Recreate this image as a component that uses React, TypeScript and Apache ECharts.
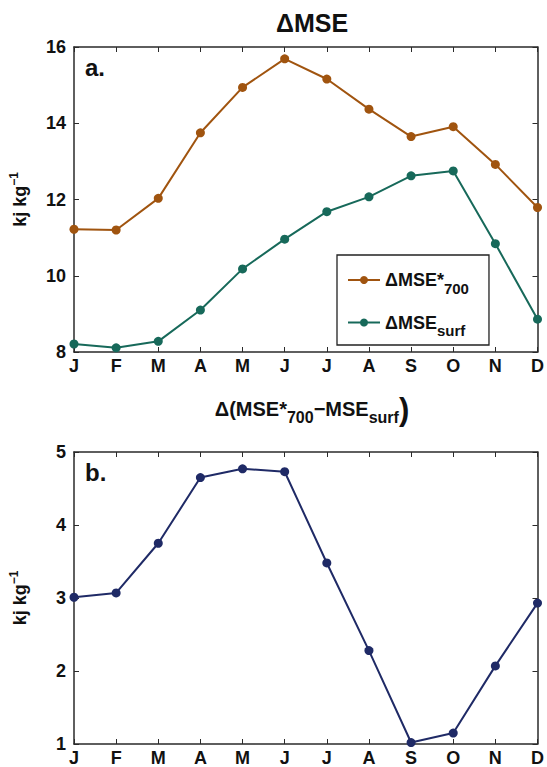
import React, { useEffect, useRef } from "react";
import * as echarts from "echarts";

const months = ["J", "F", "M", "A", "M", "J", "J", "A", "S", "O", "N", "D"];
const mseStar700 = [11.22, 11.2, 12.03, 13.75, 14.94, 15.69, 15.16, 14.37, 13.65, 13.91, 12.92, 11.79];
const mseSurf = [8.21, 8.11, 8.28, 9.1, 10.18, 10.96, 11.68, 12.07, 12.62, 12.75, 10.84, 8.86];
const mseDiff = [3.01, 3.07, 3.75, 4.65, 4.77, 4.73, 3.48, 2.28, 1.02, 1.15, 2.07, 2.93];
const topTicks = { min: 8, max: 16, interval: 2 };
const botTicks = { min: 1, max: 5, interval: 1 };

const FONT = "Liberation Sans, Arial, Helvetica, sans-serif";
const ORANGE = "#a0540f";
const GREEN = "#17695a";
const NAVY = "#1f2a66";
const AXIS = "#2a2a2a";

export default function App() {
  const ref = useRef<HTMLDivElement>(null);
  useEffect(() => {
    if (!ref.current) return;
    const chart = echarts.init(ref.current, null, { renderer: "svg" });
    const axisLine = { show: true, lineStyle: { color: AXIS, width: 1.5 } };
    const tick = { show: true, inside: true, length: 5, lineStyle: { color: AXIS, width: 1 } };
    const lbl = { fontFamily: FONT, fontWeight: "bold", fontSize: 18, color: "#111" };
    const yName = {
      name: "{m|kj kg}{s|−1}",
      nameLocation: "middle",
      nameGap: 42,
      nameRotate: 90,
      nameTextStyle: {
        rich: {
          m: { fontFamily: FONT, fontWeight: "bold", fontSize: 18, color: "#111" },
          s: { fontFamily: FONT, fontWeight: "bold", fontSize: 12, color: "#111", padding: [0, 0, 12, 0] },
        },
      },
    };
    const xBase = (gi: number, pos: string, showLabel: boolean) => ({
      type: "category",
      data: months,
      gridIndex: gi,
      position: pos,
      boundaryGap: false,
      axisLine,
      axisTick: { ...tick, interval: 0 },
      axisLabel: showLabel ? { ...lbl, margin: 5, interval: 0 } : { show: false },
      splitLine: { show: false },
    });
    const yBase = (gi: number, pos: string, t: any, showLabel: boolean, named: boolean) => ({
      type: "value",
      gridIndex: gi,
      position: pos,
      min: t.min,
      max: t.max,
      interval: t.interval,
      axisLine,
      axisTick: tick,
      axisLabel: showLabel ? { ...lbl, margin: 8 } : { show: false },
      splitLine: { show: false },
      ...(named ? yName : {}),
    });
    const sub = {
      m: { fontFamily: FONT, fontWeight: "bold", fontSize: 18, color: "#111" },
      s: { fontFamily: FONT, fontWeight: "bold", fontSize: 15, color: "#111", padding: [16, 0, 0, 0] },
    };
    chart.setOption({
      animation: false,
      backgroundColor: "#fff",
      title: [
        {
          text: "ΔMSE",
          left: 307,
          textAlign: "center",
          top: 5,
          textStyle: { fontFamily: FONT, fontWeight: "bold", fontSize: 25, color: "#111" },
        },
        {
          text: "{m|Δ(MSE*}{s|700}{m|−MSE}{s|surf}{p|)}",
          left: 307,
          textAlign: "center",
          top: 388,
          textStyle: {
            rich: {
              m: { fontFamily: FONT, fontWeight: "bold", fontSize: 20, color: "#111" },
              s: { fontFamily: FONT, fontWeight: "bold", fontSize: 16, color: "#111", padding: [16, 0, 0, 0] },
              p: { fontFamily: FONT, fontWeight: "bold", fontSize: 31, color: "#111" },
            },
          },
        },
        {
          text: "a.",
          left: 80,
          top: 50,
          textStyle: { fontFamily: FONT, fontWeight: "bold", fontSize: 24, color: "#111" },
        },
        {
          text: "b.",
          left: 80,
          top: 455,
          textStyle: { fontFamily: FONT, fontWeight: "bold", fontSize: 24, color: "#111" },
        },
      ],
      grid: [
        { left: 74, right: 6, top: 47, height: 305 },
        { left: 74, right: 6, top: 452, height: 292 },
      ],
      xAxis: [xBase(0, "bottom", true), xBase(0, "top", false), xBase(1, "bottom", true), xBase(1, "top", false)],
      yAxis: [
        yBase(0, "left", topTicks, true, true),
        yBase(0, "right", topTicks, false, false),
        yBase(1, "left", botTicks, true, true),
        yBase(1, "right", botTicks, false, false),
      ],
      legend: {
        data: ["star", "surf"],
        orient: "vertical",
        left: 337,
        top: 255,
        itemWidth: 32,
        itemHeight: 10,
        itemGap: 18,
        padding: [16, 20, 7, 10],
        borderColor: "#222",
        borderWidth: 1.3,
        backgroundColor: "#fff",
        formatter: (n: string) => (n === "star" ? "{m|ΔMSE*}{s|700}" : "{m|ΔMSE}{s|surf}"),
        textStyle: { rich: sub },
      },
      series: [
        {
          name: "star",
          type: "line",
          xAxisIndex: 0,
          yAxisIndex: 0,
          data: mseStar700,
          symbol: "circle",
          symbolSize: 9,
          lineStyle: { color: ORANGE, width: 2 },
          itemStyle: { color: ORANGE },
        },
        {
          name: "surf",
          type: "line",
          xAxisIndex: 0,
          yAxisIndex: 0,
          data: mseSurf,
          symbol: "circle",
          symbolSize: 9,
          lineStyle: { color: GREEN, width: 2 },
          itemStyle: { color: GREEN },
        },
        {
          name: "diff",
          type: "line",
          xAxisIndex: 2,
          yAxisIndex: 2,
          data: mseDiff,
          symbol: "circle",
          symbolSize: 9,
          lineStyle: { color: NAVY, width: 2 },
          itemStyle: { color: NAVY },
        },
      ],
    });
    return () => chart.dispose();
  }, []);
  return (
    <div
      ref={ref}
      style={{ position: "absolute", left: 0, top: 0, width: 547, height: 767, background: "#fff" }}
    />
  );
}
